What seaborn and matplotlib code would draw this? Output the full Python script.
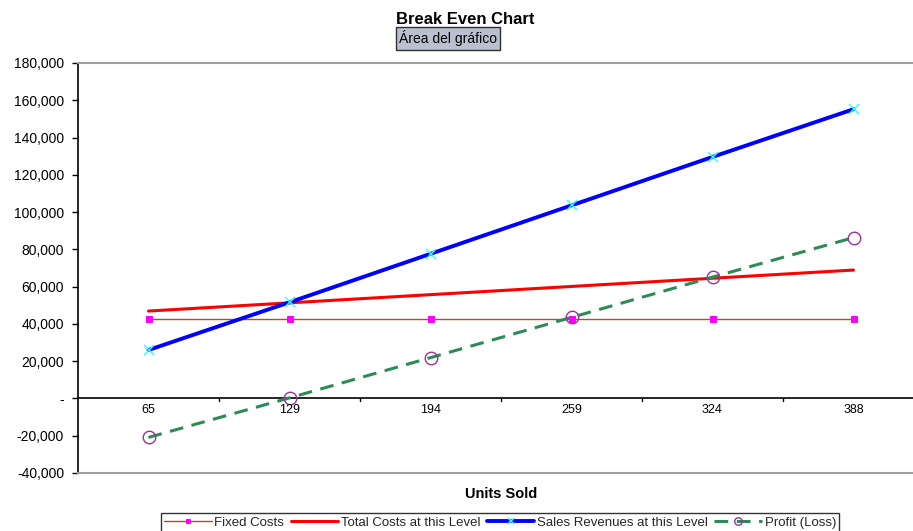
import matplotlib
matplotlib.use("Agg")
import matplotlib.pyplot as plt
from matplotlib.ticker import FuncFormatter
import seaborn as sns
import pandas as pd

# Break-even data
units_sold = [65, 129, 194, 259, 324, 388]
fixed_costs = [42500, 42500, 42500, 42500, 42500, 42500]
total_costs = [46900, 51300, 55700, 60100, 64500, 68900]
sales_revenues = [26000, 51600, 77600, 103600, 129600, 155200]
profit_loss = [-20900, 300, 21900, 43500, 65100, 86300]

series_names = ["Fixed Costs", "Total Costs at this Level",
                "Sales Revenues at this Level", "Profit (Loss)"]
y_ticks = [-40000, -20000, 0, 20000, 40000, 60000, 80000, 100000,
           120000, 140000, 160000, 180000]

df = pd.DataFrame({
    "pos": list(range(len(units_sold))),
    "units": units_sold,
    series_names[0]: fixed_costs,
    series_names[1]: total_costs,
    series_names[2]: sales_revenues,
    series_names[3]: profit_loss,
})

sns.set_theme(style="white")
plt.rcParams["font.family"] = ["Liberation Sans", "DejaVu Sans"]

W, H = 913, 531
fig = plt.figure(figsize=(W / 100, H / 100), dpi=100)
# plot area (pixels): left 78, top 63, bottom 473, category spacing 141
left, top, bottom = 78, 63, 473
width = 141 * 6
ax = fig.add_axes([left / W, 1 - bottom / H, width / W, (bottom - top) / H])

styles = {
    series_names[0]: dict(color="#b0501e", linewidth=1.0, marker="s",
                          markersize=4, markerfacecolor="#ff00ff",
                          markeredgecolor="#ff00ff", dashes=None),
    series_names[1]: dict(color="#ff0000", linewidth=2.2, marker=None,
                          dashes=None),
    series_names[2]: dict(color="#0000ff", linewidth=2.8, marker="x",
                          markersize=6.5, markeredgecolor="#33ffff",
                          markeredgewidth=1.1, dashes=None),
    series_names[3]: dict(color="#2e8b57", linewidth=2.2, marker="o",
                          markersize=9, markerfacecolor="none",
                          markeredgecolor="#993399", markeredgewidth=1.0,
                          dashes=(4.5, 2.8)),
}

for name in series_names:
    st = dict(styles[name])
    dashes = st.pop("dashes")
    sns.lineplot(data=df, x="pos", y=name, ax=ax, label=name, **st)
    if dashes is not None:
        ax.lines[-1].set_dashes(dashes)

ax.set_xlim(-0.5, len(units_sold) - 0.5)
ax.set_ylim(-40000, 180000)
ax.set_yticks(y_ticks)
ax.yaxis.set_major_formatter(
    FuncFormatter(lambda v, p: "-" if v == 0 else f"{int(v):,}"))
ax.tick_params(axis="y", which="major", left=True, length=4, width=1,
               color="black", labelsize=10, pad=6, labelcolor="black")

# category axis crossing at zero, ticks between categories
ax.set_xticks([i + 0.5 for i in range(len(units_sold) - 1)])
ax.set_xticklabels([])
ax.tick_params(axis="x", bottom=False)
ax.axhline(0, color="black", linewidth=1.2, zorder=1)
for i in range(len(units_sold) - 1):
    ax.plot([i + 0.5, i + 0.5], [0, -1500], color="black", linewidth=1,
            zorder=1)
for i, u in enumerate(units_sold):
    ax.text(i, -6400, str(u), ha="center", va="center", fontsize=9,
            color="black")

ax.set_xlabel("")
ax.set_ylabel("")
for s in ["top", "bottom", "right"]:
    ax.spines[s].set_color("#a0a0a0")
    ax.spines[s].set_linewidth(1.5)
ax.spines["left"].set_color("black")
ax.spines["left"].set_linewidth(1.2)
ax.grid(False)

ax.get_legend().remove()
handles, labels = ax.get_legend_handles_labels()
leg = fig.legend(handles, labels, loc="upper center",
                 bbox_to_anchor=(500 / W, 1 - 513 / H), ncol=4,
                 fontsize=9.5, frameon=True, fancybox=False,
                 handlelength=3.6, handletextpad=0.2, columnspacing=0.5,
                 borderpad=0.25, borderaxespad=0, markerscale=0.6)
leg.get_frame().set_edgecolor("black")
leg.get_frame().set_linewidth(1.0)

fig.text(465 / W, 1 - 19 / H, "Break Even Chart", ha="center", va="center",
         fontsize=12, fontweight="bold", color="black")
fig.text(448 / W, 1 - 38.5 / H, "Área del gráfico", ha="center",
         va="center", fontsize=10, color="black",
         bbox=dict(boxstyle="square,pad=0.25", facecolor="#b9c0cf",
                   edgecolor="#303030", linewidth=1.0))
fig.text(501 / W, 1 - 494 / H, "Units Sold", ha="center", va="center",
         fontsize=10.5, fontweight="bold", color="black")

fig.savefig("out.png", dpi=100, facecolor="white")
